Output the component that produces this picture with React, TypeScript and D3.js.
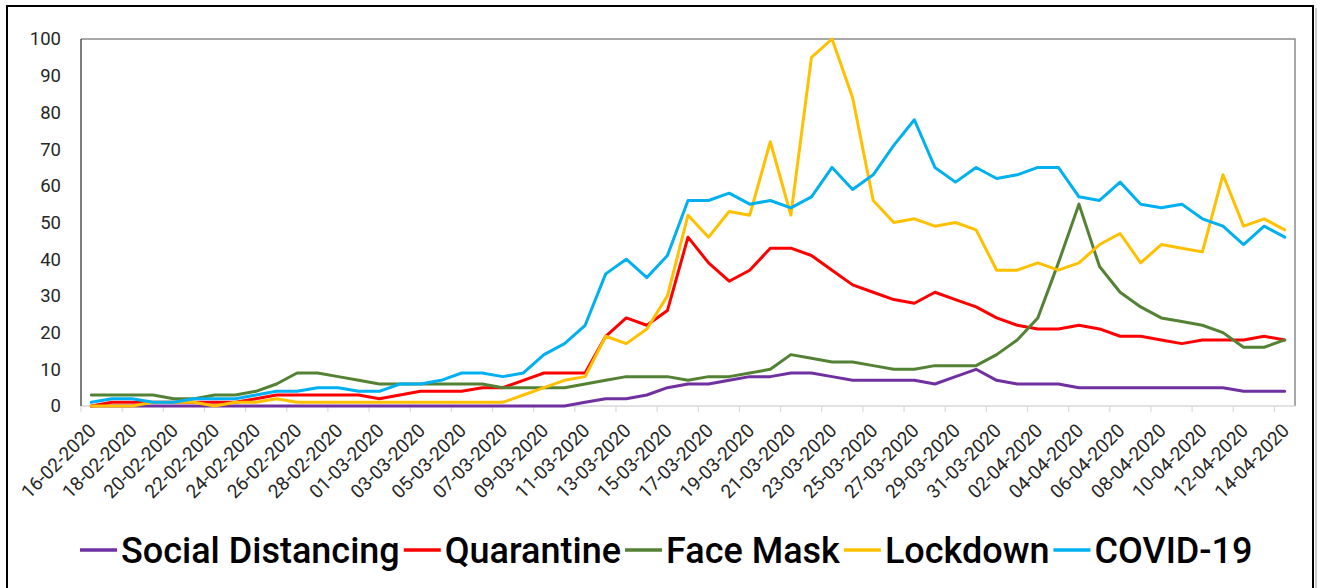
import { useEffect, useRef } from 'react';
import * as d3 from 'd3';

const dates = [
    '16-02-2020', '17-02-2020', '18-02-2020', '19-02-2020', '20-02-2020', '21-02-2020', '22-02-2020', '23-02-2020',
    '24-02-2020', '25-02-2020', '26-02-2020', '27-02-2020', '28-02-2020', '29-02-2020', '01-03-2020', '02-03-2020',
    '03-03-2020', '04-03-2020', '05-03-2020', '06-03-2020', '07-03-2020', '08-03-2020', '09-03-2020', '10-03-2020',
    '11-03-2020', '12-03-2020', '13-03-2020', '14-03-2020', '15-03-2020', '16-03-2020', '17-03-2020', '18-03-2020',
    '19-03-2020', '20-03-2020', '21-03-2020', '22-03-2020', '23-03-2020', '24-03-2020', '25-03-2020', '26-03-2020',
    '27-03-2020', '28-03-2020', '29-03-2020', '30-03-2020', '31-03-2020', '01-04-2020', '02-04-2020', '03-04-2020',
    '04-04-2020', '05-04-2020', '06-04-2020', '07-04-2020', '08-04-2020', '09-04-2020', '10-04-2020', '11-04-2020',
    '12-04-2020', '13-04-2020', '14-04-2020',
];

const socialDistancing = [
    0, 0, 0, 0, 0, 0, 0, 0, 0, 0, 0, 0, 0, 0, 0, 0, 0, 0, 0, 0, 0, 0, 0, 0,
    1, 2, 2, 3, 5, 6, 6, 7, 8, 8, 9, 9, 8, 7, 7, 7, 7, 6, 8, 10, 7, 6, 6, 6,
    5, 5, 5, 5, 5, 5, 5, 5, 4, 4, 4,
];
const quarantine = [
    0, 1, 1, 1, 1, 1, 1, 1, 2, 3, 3, 3, 3, 3, 2, 3, 4, 4, 4, 5, 5,
    7, 9, 9, 9, 19, 24, 22, 26, 46, 39, 34, 37, 43, 43, 41, 37, 33, 31, 29, 28,
    31, 29, 27, 24, 22, 21, 21, 22, 21, 19, 19, 18, 17, 18, 18, 18, 19, 18,
];
const faceMask = [
    3, 3, 3, 3, 2, 2, 3, 3, 4, 6, 9, 9, 8, 7, 6, 6, 6, 6, 6, 6,
    5, 5, 5, 5, 6, 7, 8, 8, 8, 7, 8, 8, 9, 10, 14, 13, 12, 12, 11, 10,
    10, 11, 11, 11, 14, 18, 24, 39, 55, 38, 31, 27, 24, 23, 22, 20, 16, 16, 18,
];
const lockdown = [
    0, 0, 0, 1, 1, 1, 0, 1, 1, 2, 1, 1, 1, 1, 1, 1, 1, 1, 1, 1,
    1, 3, 5, 7, 8, 19, 17, 21, 30, 52, 46, 53, 52, 72, 52, 95, 100, 84, 56, 50,
    51, 49, 50, 48, 37, 37, 39, 37, 39, 44, 47, 39, 44, 43, 42, 63, 49, 51, 48,
];
const covid19 = [
    1, 2, 2, 1, 1, 2, 2, 2, 3, 4, 4, 5, 5, 4, 4, 6, 6, 7, 9, 9,
    8, 9, 14, 17, 22, 36, 40, 35, 41, 56, 56, 58, 55, 56, 54, 57, 65, 59, 63, 71,
    78, 65, 61, 65, 62, 63, 65, 65, 57, 56, 61, 55, 54, 55, 51, 49, 44, 49, 46,
];

const seriesNames = ['Social Distancing', 'Quarantine', 'Face Mask', 'Lockdown', 'COVID-19'];
const seriesColors = ['#7030A0', '#FF0000', '#548235', '#FFC000', '#00B0F0'];
const seriesValues = [socialDistancing, quarantine, faceMask, lockdown, covid19];
const yTicks = [0, 10, 20, 30, 40, 50, 60, 70, 80, 90, 100];

const FONT = 'Roboto, "DejaVu Sans", sans-serif';

const App: React.FC = () => {
    const svgRef = useRef<SVGSVGElement>(null);

    useEffect(() => {
        document.body.style.margin = '0';
        if (!svgRef.current) return;
        const svg = d3.select(svgRef.current);
        svg.selectAll('*').remove();

        const H = 588;
        const plot = { left: 81, right: 1295, top: 39, bottom: 406 };

        // outer frame
        svg.append('rect').attr('x', 7).attr('y', 6).attr('width', 1306).attr('height', 620)
            .attr('fill', '#fff').attr('stroke', '#000').attr('stroke-width', 2);
        svg.append('line').attr('x1', 1316).attr('x2', 1316).attr('y1', 8).attr('y2', H)
            .attr('stroke', '#bbb').attr('stroke-width', 1.5);

        const x = d3.scaleBand<string>().domain(dates).range([plot.left, plot.right]).padding(0);
        const y = d3.scaleLinear().domain([0, 100]).range([plot.bottom, plot.top]);
        const cx = (d: string) => (x(d) ?? 0) + x.bandwidth() / 2;

        // plot frame: top and right grey
        svg.append('path')
            .attr('d', `M${plot.left},${plot.top}H${plot.right}V${plot.bottom}`)
            .attr('fill', 'none').attr('stroke', '#8c8c8c').attr('stroke-width', 1.5);

        // x axis
        const xAxis = svg.append('g');
        xAxis.append('line').attr('x1', plot.left).attr('x2', plot.right)
            .attr('y1', plot.bottom).attr('y2', plot.bottom)
            .attr('stroke', '#d9d9d9').attr('stroke-width', 1.5);
        const tickIdx = dates.map((_, i) => i).filter(i => i % 2 === 0);
        xAxis.selectAll('.tick')
            .data(tickIdx)
            .join('line')
            .attr('x1', i => x(dates[i])!)
            .attr('x2', i => x(dates[i])!)
            .attr('y1', plot.bottom)
            .attr('y2', plot.bottom + 6)
            .attr('stroke', '#d9d9d9').attr('stroke-width', 1.2);
        xAxis.selectAll('.lbl')
            .data(tickIdx)
            .join('text')
            .attr('transform', i => `translate(${cx(dates[i]) + 1},${plot.bottom + 21}) rotate(-45)`)
            .attr('text-anchor', 'end')
            .attr('dy', '0.35em')
            .attr('font-family', FONT)
            .attr('font-size', 19)
            .attr('fill', '#262626')
            .text(i => dates[i]);

        // y axis
        svg.append('line').attr('x1', plot.left).attr('x2', plot.left)
            .attr('y1', plot.top).attr('y2', plot.bottom)
            .attr('stroke', '#262626').attr('stroke-width', 1.2);
        svg.append('g').selectAll('text')
            .data(yTicks)
            .join('text')
            .attr('x', 61)
            .attr('y', d => y(d))
            .attr('dy', '0.35em')
            .attr('text-anchor', 'end')
            .attr('font-family', FONT)
            .attr('font-size', 18.5)
            .attr('fill', '#262626')
            .text(d => d);

        // lines
        const line = d3.line<number>()
            .x((_, i) => cx(dates[i]))
            .y(d => y(d));
        svg.append('g').selectAll('path')
            .data(seriesValues)
            .join('path')
            .attr('d', d => line(d))
            .attr('fill', 'none')
            .attr('stroke', (_, i) => seriesColors[i])
            .attr('stroke-width', 3)
            .attr('stroke-linejoin', 'round')
            .attr('stroke-linecap', 'round');

        // legend
        const legend = svg.append('g');
        let lx = 80;
        const ly = 550;
        seriesNames.forEach((name, i) => {
            legend.append('line')
                .attr('x1', lx).attr('x2', lx + 37)
                .attr('y1', ly).attr('y2', ly)
                .attr('stroke', seriesColors[i]).attr('stroke-width', 3.5);
            const t = legend.append('text')
                .attr('x', lx + 41)
                .attr('y', ly)
                .attr('dy', '0.36em')
                .attr('font-family', FONT)
                .attr('font-size', 36)
                .attr('font-weight', 500)
                .attr('fill', '#000')
                .text(name);
            const w = (t.node() as SVGTextElement).getComputedTextLength();
            lx += 41 + w + 4;
        });
    }, []);

    return <svg ref={svgRef} width={1320} height={588} style={{ display: 'block' }} />;
};

export default App;
